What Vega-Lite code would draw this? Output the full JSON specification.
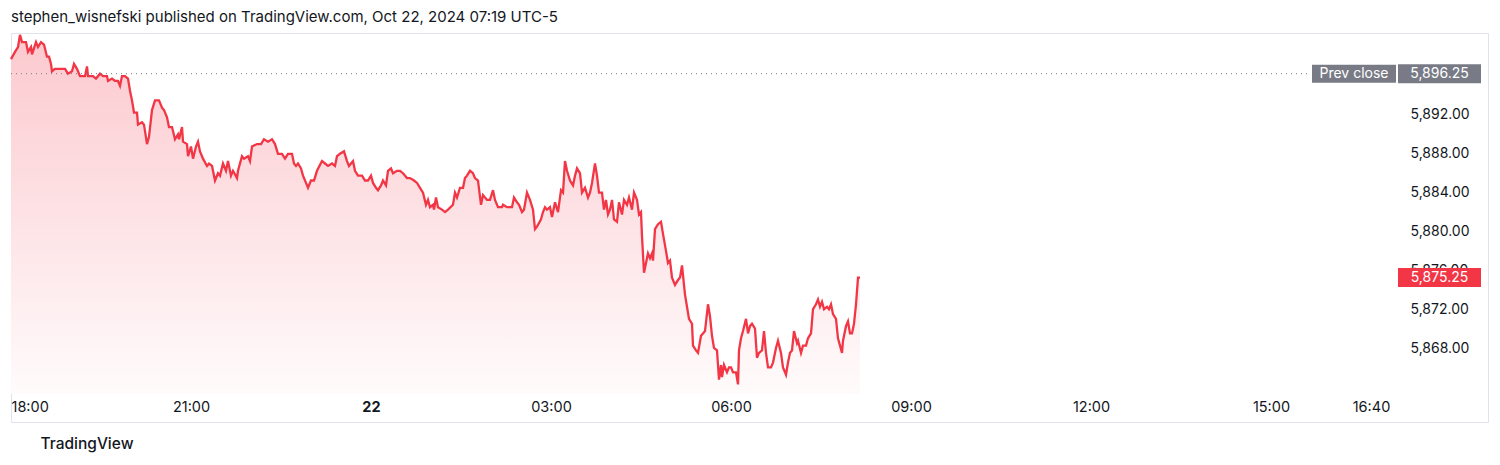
{
  "$schema": "https://vega.github.io/schema/vega-lite/v6.json",
  "autosize": {"type": "none"},
  "padding": {"left": 11, "top": 33, "right": 12, "bottom": 43},
  "width": 1477,
  "height": 389,
  "background": "#ffffff",
  "title": {
    "text": "stephen_wisnefski published on TradingView.com, Oct 22, 2024 07:19 UTC-5",
    "anchor": "start",
    "frame": "group",
    "baseline": "alphabetic",
    "offset": -7,
    "fontSize": 15,
    "fontWeight": "normal",
    "color": "#131722",
    "font": "Inter"
  },
  "datasets": {
    "prices": [
      {"t":"2024-10-21T18:00","p":5897.75},{"t":"2024-10-21T18:04","p":5898.5},{"t":"2024-10-21T18:07","p":5899},{"t":"2024-10-21T18:09","p":5900.25},
      {"t":"2024-10-21T18:11","p":5899.5},{"t":"2024-10-21T18:15","p":5899.5},{"t":"2024-10-21T18:17","p":5898.5},{"t":"2024-10-21T18:20","p":5899},
      {"t":"2024-10-21T18:21","p":5898.25},{"t":"2024-10-21T18:25","p":5899.5},{"t":"2024-10-21T18:27","p":5899},{"t":"2024-10-21T18:30","p":5899.5},
      {"t":"2024-10-21T18:33","p":5899.25},{"t":"2024-10-21T18:36","p":5898},{"t":"2024-10-21T18:38","p":5898},{"t":"2024-10-21T18:40","p":5897.25},
      {"t":"2024-10-21T18:41","p":5896.5},{"t":"2024-10-21T18:44","p":5896.75},{"t":"2024-10-21T18:49","p":5896.75},{"t":"2024-10-21T18:54","p":5896.75},
      {"t":"2024-10-21T18:57","p":5896.25},{"t":"2024-10-21T19:01","p":5896.5},{"t":"2024-10-21T19:03","p":5897.25},{"t":"2024-10-21T19:06","p":5896.75},
      {"t":"2024-10-21T19:09","p":5896},{"t":"2024-10-21T19:14","p":5896},{"t":"2024-10-21T19:16","p":5897},{"t":"2024-10-21T19:17","p":5896},
      {"t":"2024-10-21T19:22","p":5896},{"t":"2024-10-21T19:25","p":5895.75},{"t":"2024-10-21T19:29","p":5896.25},{"t":"2024-10-21T19:32","p":5896},
      {"t":"2024-10-21T19:36","p":5896},{"t":"2024-10-21T19:37","p":5895.5},{"t":"2024-10-21T19:41","p":5895.75},{"t":"2024-10-21T19:44","p":5895.5},
      {"t":"2024-10-21T19:47","p":5895.5},{"t":"2024-10-21T19:49","p":5895},{"t":"2024-10-21T19:51","p":5896},{"t":"2024-10-21T19:54","p":5896},
      {"t":"2024-10-21T19:57","p":5895.75},{"t":"2024-10-21T19:59","p":5894.5},{"t":"2024-10-21T20:01","p":5893.5},{"t":"2024-10-21T20:03","p":5892.25},
      {"t":"2024-10-21T20:06","p":5892.25},{"t":"2024-10-21T20:07","p":5891},{"t":"2024-10-21T20:11","p":5891.25},{"t":"2024-10-21T20:13","p":5891},
      {"t":"2024-10-21T20:16","p":5889},{"t":"2024-10-21T20:18","p":5889.75},{"t":"2024-10-21T20:21","p":5892.5},{"t":"2024-10-21T20:24","p":5893.5},
      {"t":"2024-10-21T20:28","p":5893.5},{"t":"2024-10-21T20:31","p":5892.75},{"t":"2024-10-21T20:33","p":5892.5},{"t":"2024-10-21T20:36","p":5891.75},
      {"t":"2024-10-21T20:38","p":5890.75},{"t":"2024-10-21T20:41","p":5890.75},{"t":"2024-10-21T20:44","p":5889.5},{"t":"2024-10-21T20:47","p":5890},
      {"t":"2024-10-21T20:48","p":5889.5},{"t":"2024-10-21T20:51","p":5890.75},{"t":"2024-10-21T20:52","p":5889.25},{"t":"2024-10-21T20:56","p":5889},
      {"t":"2024-10-21T20:57","p":5887.75},{"t":"2024-10-21T21:00","p":5888.75},{"t":"2024-10-21T21:02","p":5887.5},{"t":"2024-10-21T21:05","p":5888.75},
      {"t":"2024-10-21T21:07","p":5889.25},{"t":"2024-10-21T21:09","p":5888.25},{"t":"2024-10-21T21:12","p":5887.5},{"t":"2024-10-21T21:16","p":5886.75},
      {"t":"2024-10-21T21:18","p":5887},{"t":"2024-10-21T21:21","p":5886.75},{"t":"2024-10-21T21:24","p":5885.25},{"t":"2024-10-21T21:27","p":5886},
      {"t":"2024-10-21T21:29","p":5885.75},{"t":"2024-10-21T21:32","p":5887},{"t":"2024-10-21T21:35","p":5886.25},{"t":"2024-10-21T21:37","p":5887.25},
      {"t":"2024-10-21T21:40","p":5885.75},{"t":"2024-10-21T21:42","p":5886.25},{"t":"2024-10-21T21:46","p":5885.5},{"t":"2024-10-21T21:47","p":5886.25},
      {"t":"2024-10-21T21:51","p":5887.75},{"t":"2024-10-21T21:53","p":5887.5},{"t":"2024-10-21T21:57","p":5887.75},{"t":"2024-10-21T21:59","p":5887.25},
      {"t":"2024-10-21T22:01","p":5888.75},{"t":"2024-10-21T22:06","p":5889},{"t":"2024-10-21T22:10","p":5889},{"t":"2024-10-21T22:13","p":5889.5},
      {"t":"2024-10-21T22:17","p":5889.25},{"t":"2024-10-21T22:21","p":5889.5},{"t":"2024-10-21T22:24","p":5889},{"t":"2024-10-21T22:27","p":5888},
      {"t":"2024-10-21T22:31","p":5888},{"t":"2024-10-21T22:34","p":5887.5},{"t":"2024-10-21T22:37","p":5888},{"t":"2024-10-21T22:41","p":5888},
      {"t":"2024-10-21T22:43","p":5887},{"t":"2024-10-21T22:45","p":5886.75},{"t":"2024-10-21T22:47","p":5887},{"t":"2024-10-21T22:50","p":5886.5},
      {"t":"2024-10-21T22:52","p":5885.75},{"t":"2024-10-21T22:55","p":5885},{"t":"2024-10-21T22:57","p":5884.5},{"t":"2024-10-21T23:00","p":5885.25},
      {"t":"2024-10-21T23:03","p":5885.25},{"t":"2024-10-21T23:06","p":5886.25},{"t":"2024-10-21T23:11","p":5887.25},{"t":"2024-10-21T23:14","p":5887},
      {"t":"2024-10-21T23:17","p":5886.75},{"t":"2024-10-21T23:21","p":5887},{"t":"2024-10-21T23:24","p":5886.75},{"t":"2024-10-21T23:26","p":5887.75},
      {"t":"2024-10-21T23:29","p":5888},{"t":"2024-10-21T23:33","p":5888.25},{"t":"2024-10-21T23:36","p":5887.25},{"t":"2024-10-21T23:38","p":5886.75},
      {"t":"2024-10-21T23:42","p":5887.25},{"t":"2024-10-21T23:44","p":5886.25},{"t":"2024-10-21T23:47","p":5885.75},{"t":"2024-10-21T23:51","p":5885.75},
      {"t":"2024-10-21T23:54","p":5885.25},{"t":"2024-10-21T23:57","p":5885.25},{"t":"2024-10-22T00:00","p":5885.75},{"t":"2024-10-22T00:02","p":5885},
      {"t":"2024-10-22T00:05","p":5884.5},{"t":"2024-10-22T00:07","p":5884.25},{"t":"2024-10-22T00:10","p":5884.75},{"t":"2024-10-22T00:12","p":5885.25},
      {"t":"2024-10-22T00:15","p":5884.75},{"t":"2024-10-22T00:17","p":5886.25},{"t":"2024-10-22T00:20","p":5886.5},{"t":"2024-10-22T00:22","p":5886},
      {"t":"2024-10-22T00:26","p":5886.25},{"t":"2024-10-22T00:29","p":5886.25},{"t":"2024-10-22T00:32","p":5886},{"t":"2024-10-22T00:36","p":5885.5},
      {"t":"2024-10-22T00:39","p":5885.5},{"t":"2024-10-22T00:43","p":5885.25},{"t":"2024-10-22T00:46","p":5885},{"t":"2024-10-22T00:49","p":5884.5},
      {"t":"2024-10-22T00:52","p":5884},{"t":"2024-10-22T00:55","p":5882.75},{"t":"2024-10-22T00:57","p":5883.25},{"t":"2024-10-22T00:59","p":5882.5},
      {"t":"2024-10-22T01:02","p":5882.75},{"t":"2024-10-22T01:03","p":5882.25},{"t":"2024-10-22T01:05","p":5883.5},{"t":"2024-10-22T01:07","p":5882.5},
      {"t":"2024-10-22T01:11","p":5882.25},{"t":"2024-10-22T01:14","p":5882},{"t":"2024-10-22T01:17","p":5882.25},{"t":"2024-10-22T01:22","p":5882.75},
      {"t":"2024-10-22T01:24","p":5884},{"t":"2024-10-22T01:26","p":5883.5},{"t":"2024-10-22T01:29","p":5884.5},{"t":"2024-10-22T01:32","p":5884.5},
      {"t":"2024-10-22T01:34","p":5885.5},{"t":"2024-10-22T01:36","p":5885.75},{"t":"2024-10-22T01:39","p":5886.25},{"t":"2024-10-22T01:42","p":5886},
      {"t":"2024-10-22T01:44","p":5885.5},{"t":"2024-10-22T01:47","p":5885.25},{"t":"2024-10-22T01:50","p":5882.75},{"t":"2024-10-22T01:52","p":5883.75},
      {"t":"2024-10-22T01:56","p":5883.25},{"t":"2024-10-22T01:59","p":5883.25},{"t":"2024-10-22T02:02","p":5884.25},{"t":"2024-10-22T02:04","p":5883.25},
      {"t":"2024-10-22T02:07","p":5882.5},{"t":"2024-10-22T02:11","p":5882.5},{"t":"2024-10-22T02:12","p":5882.75},{"t":"2024-10-22T02:16","p":5882.5},
      {"t":"2024-10-22T02:18","p":5882.5},{"t":"2024-10-22T02:21","p":5882.5},{"t":"2024-10-22T02:23","p":5883.5},{"t":"2024-10-22T02:26","p":5883},
      {"t":"2024-10-22T02:28","p":5882.75},{"t":"2024-10-22T02:31","p":5882},{"t":"2024-10-22T02:33","p":5882.25},{"t":"2024-10-22T02:36","p":5884},
      {"t":"2024-10-22T02:39","p":5883.25},{"t":"2024-10-22T02:42","p":5882.25},{"t":"2024-10-22T02:44","p":5880.25},{"t":"2024-10-22T02:46","p":5880.5},
      {"t":"2024-10-22T02:50","p":5881.25},{"t":"2024-10-22T02:52","p":5882},{"t":"2024-10-22T02:54","p":5882.5},{"t":"2024-10-22T02:56","p":5882.25},
      {"t":"2024-10-22T02:59","p":5882.5},{"t":"2024-10-22T03:01","p":5881.5},{"t":"2024-10-22T03:04","p":5883},{"t":"2024-10-22T03:07","p":5882},
      {"t":"2024-10-22T03:10","p":5884.25},{"t":"2024-10-22T03:12","p":5884},{"t":"2024-10-22T03:14","p":5887.25},{"t":"2024-10-22T03:16","p":5886.25},
      {"t":"2024-10-22T03:19","p":5885.25},{"t":"2024-10-22T03:22","p":5884.75},{"t":"2024-10-22T03:24","p":5885.75},{"t":"2024-10-22T03:26","p":5886.5},
      {"t":"2024-10-22T03:29","p":5886},{"t":"2024-10-22T03:31","p":5884},{"t":"2024-10-22T03:34","p":5884.5},{"t":"2024-10-22T03:37","p":5883.5},
      {"t":"2024-10-22T03:39","p":5884},{"t":"2024-10-22T03:41","p":5885},{"t":"2024-10-22T03:44","p":5887},{"t":"2024-10-22T03:46","p":5885.75},
      {"t":"2024-10-22T03:48","p":5884},{"t":"2024-10-22T03:51","p":5884},{"t":"2024-10-22T03:53","p":5882.25},{"t":"2024-10-22T03:55","p":5883.25},
      {"t":"2024-10-22T03:57","p":5881.75},{"t":"2024-10-22T03:59","p":5882.25},{"t":"2024-10-22T04:01","p":5883.25},{"t":"2024-10-22T04:03","p":5881.25},
      {"t":"2024-10-22T04:06","p":5881},{"t":"2024-10-22T04:08","p":5883},{"t":"2024-10-22T04:11","p":5881.75},{"t":"2024-10-22T04:13","p":5883.25},
      {"t":"2024-10-22T04:16","p":5882.75},{"t":"2024-10-22T04:18","p":5883.5},{"t":"2024-10-22T04:21","p":5882.25},{"t":"2024-10-22T04:23","p":5884},
      {"t":"2024-10-22T04:26","p":5883.25},{"t":"2024-10-22T04:28","p":5881.75},{"t":"2024-10-22T04:30","p":5882},{"t":"2024-10-22T04:31","p":5879.5},
      {"t":"2024-10-22T04:33","p":5875.75},{"t":"2024-10-22T04:35","p":5876.75},{"t":"2024-10-22T04:37","p":5877.75},{"t":"2024-10-22T04:39","p":5877.25},
      {"t":"2024-10-22T04:41","p":5877.75},{"t":"2024-10-22T04:42","p":5877},{"t":"2024-10-22T04:44","p":5880.25},{"t":"2024-10-22T04:47","p":5880.75},
      {"t":"2024-10-22T04:50","p":5881},{"t":"2024-10-22T04:52","p":5879.75},{"t":"2024-10-22T04:55","p":5878},{"t":"2024-10-22T04:57","p":5876.75},
      {"t":"2024-10-22T04:59","p":5877},{"t":"2024-10-22T05:01","p":5875.25},{"t":"2024-10-22T05:04","p":5874.5},{"t":"2024-10-22T05:07","p":5875},
      {"t":"2024-10-22T05:09","p":5875.25},{"t":"2024-10-22T05:11","p":5876.5},{"t":"2024-10-22T05:14","p":5873.5},{"t":"2024-10-22T05:16","p":5872.25},
      {"t":"2024-10-22T05:18","p":5871},{"t":"2024-10-22T05:21","p":5870.5},{"t":"2024-10-22T05:22","p":5868.25},{"t":"2024-10-22T05:25","p":5867.75},
      {"t":"2024-10-22T05:27","p":5867.5},{"t":"2024-10-22T05:30","p":5869.25},{"t":"2024-10-22T05:32","p":5869.5},{"t":"2024-10-22T05:34","p":5869.75},
      {"t":"2024-10-22T05:37","p":5872.5},{"t":"2024-10-22T05:39","p":5871.25},{"t":"2024-10-22T05:41","p":5869.25},{"t":"2024-10-22T05:43","p":5868},
      {"t":"2024-10-22T05:46","p":5867.75},{"t":"2024-10-22T05:48","p":5864.75},{"t":"2024-10-22T05:50","p":5866.25},{"t":"2024-10-22T05:51","p":5865},
      {"t":"2024-10-22T05:53","p":5866.25},{"t":"2024-10-22T05:56","p":5865.5},{"t":"2024-10-22T05:58","p":5866},{"t":"2024-10-22T06:00","p":5866},
      {"t":"2024-10-22T06:02","p":5865.5},{"t":"2024-10-22T06:05","p":5865.5},{"t":"2024-10-22T06:07","p":5864.25},{"t":"2024-10-22T06:08","p":5867.75},
      {"t":"2024-10-22T06:10","p":5869},{"t":"2024-10-22T06:12","p":5869.75},{"t":"2024-10-22T06:15","p":5871},{"t":"2024-10-22T06:17","p":5869.5},
      {"t":"2024-10-22T06:19","p":5870.25},{"t":"2024-10-22T06:21","p":5870.5},{"t":"2024-10-22T06:24","p":5870},{"t":"2024-10-22T06:26","p":5867},
      {"t":"2024-10-22T06:28","p":5867.5},{"t":"2024-10-22T06:31","p":5867.75},{"t":"2024-10-22T06:33","p":5869.75},{"t":"2024-10-22T06:35","p":5867.5},
      {"t":"2024-10-22T06:37","p":5866},{"t":"2024-10-22T06:40","p":5866},{"t":"2024-10-22T06:42","p":5866.5},{"t":"2024-10-22T06:45","p":5868},
      {"t":"2024-10-22T06:47","p":5868.75},{"t":"2024-10-22T06:50","p":5867.5},{"t":"2024-10-22T06:52","p":5866},{"t":"2024-10-22T06:55","p":5865.25},
      {"t":"2024-10-22T06:57","p":5866.5},{"t":"2024-10-22T06:59","p":5867.5},{"t":"2024-10-22T07:01","p":5867.75},{"t":"2024-10-22T07:03","p":5869.75},
      {"t":"2024-10-22T07:06","p":5868.5},{"t":"2024-10-22T07:07","p":5868.75},{"t":"2024-10-22T07:10","p":5867.5},{"t":"2024-10-22T07:12","p":5868.25},
      {"t":"2024-10-22T07:15","p":5868.25},{"t":"2024-10-22T07:17","p":5869},{"t":"2024-10-22T07:20","p":5869.5},{"t":"2024-10-22T07:22","p":5872},
      {"t":"2024-10-22T07:25","p":5872.5},{"t":"2024-10-22T07:27","p":5873},{"t":"2024-10-22T07:29","p":5872.25},{"t":"2024-10-22T07:31","p":5872.75},
      {"t":"2024-10-22T07:33","p":5872},{"t":"2024-10-22T07:36","p":5872.25},{"t":"2024-10-22T07:38","p":5872},{"t":"2024-10-22T07:40","p":5872.5},
      {"t":"2024-10-22T07:42","p":5871.5},{"t":"2024-10-22T07:45","p":5871},{"t":"2024-10-22T07:47","p":5869},{"t":"2024-10-22T07:49","p":5868.25},
      {"t":"2024-10-22T07:51","p":5867.5},{"t":"2024-10-22T07:52","p":5868.75},{"t":"2024-10-22T07:55","p":5870.25},{"t":"2024-10-22T07:57","p":5870.75},
      {"t":"2024-10-22T07:59","p":5869.5},{"t":"2024-10-22T08:01","p":5869.5},{"t":"2024-10-22T08:03","p":5870.5},{"t":"2024-10-22T08:05","p":5872.5},
      {"t":"2024-10-22T08:07","p":5875.25},{"t":"2024-10-22T08:09","p":5875.25}
    ],
    "levels": [
      {"name": "Prev close", "p": 5896.25},
      {"name": "Last", "p": 5875.25}
    ]
  },
  "encoding": {
    "y": {
      "field": "p",
      "type": "quantitative",
      "title": null,
      "scale": {"domain": [5860.38, 5900.44], "zero": false, "nice": false},
      "axis": {
        "orient": "right",
        "offset": -93,
        "values": [5868, 5872, 5876, 5880, 5884, 5888, 5892],
        "format": ",.2f",
        "labelAlign": "left",
        "labelBaseline": "middle",
        "labelPadding": 15,
        "labelFontSize": 14,
        "zindex": 0
      }
    }
  },
  "layer": [
    {
      "data": {"name": "prices"},
      "mark": {
        "type": "area",
        "interpolate": "linear",
        "color": {
          "gradient": "linear",
          "x1": 0, "y1": 0, "x2": 0, "y2": 1,
          "stops": [
            {"offset": 0, "color": "#fcc9ce"},
            {"offset": 0.5, "color": "#fde2e5"},
            {"offset": 1, "color": "#fffbfb"}
          ]
        }
      },
      "encoding": {
        "x": {
          "field": "t",
          "type": "temporal",
          "title": "TradingView",
          "scale": {
            "domain": [
              {"year": 2024, "month": 10, "date": 21, "hours": 18, "minutes": 0},
              {"year": 2024, "month": 10, "date": 22, "hours": 18, "minutes": 37}
            ],
            "nice": false
          },
          "axis": {
            "orient": "bottom",
            "offset": -29,
            "values": [
              {"year": 2024, "month": 10, "date": 21, "hours": 18},
              {"year": 2024, "month": 10, "date": 21, "hours": 21},
              {"year": 2024, "month": 10, "date": 22, "hours": 0},
              {"year": 2024, "month": 10, "date": 22, "hours": 3},
              {"year": 2024, "month": 10, "date": 22, "hours": 6},
              {"year": 2024, "month": 10, "date": 22, "hours": 9},
              {"year": 2024, "month": 10, "date": 22, "hours": 12},
              {"year": 2024, "month": 10, "date": 22, "hours": 15},
              {"year": 2024, "month": 10, "date": 22, "hours": 16, "minutes": 40}
            ],
            "labelExpr": "hours(datum.value) == 0 ? '22' : timeFormat(datum.value, '%H:%M')",
            "labelFontWeight": {"condition": {"test": "hours(datum.value) == 0", "value": "bold"}, "value": "normal"},
            "labelFontSize": 14.5,
            "labelFlush": true,
            "labelBaseline": "top",
            "labelPadding": 7,
            "titleX": 29,
            "titleY": 50,
            "titleAlign": "left",
            "titleBaseline": "middle",
            "titleFontSize": 15.5,
            "titleFontWeight": 500,
            "titleColor": "#131722",
            "zindex": 0
          }
        },
        "y2": {"datum": 5863.3}
      }
    },
    {
      "data": {"name": "prices"},
      "mark": {"type": "line", "color": "#f23645", "strokeWidth": 2.3, "interpolate": "linear"},
      "encoding": {
        "x": {"field": "t", "type": "temporal", "title": "TradingView"}
      }
    },
    {
      "data": {"name": "levels"},
      "transform": [{"filter": "datum.name == 'Prev close'"}],
      "mark": {"type": "rule", "color": "#787b86", "strokeWidth": 1, "strokeDash": [1, 4]},
      "encoding": {
        "x": {"datum": {"year": 2024, "month": 10, "date": 21, "hours": 18}, "type": "temporal"},
        "x2": {"datum": {"year": 2024, "month": 10, "date": 22, "hours": 15, "minutes": 40}}
      }
    },
    {
      "data": {"name": "levels"},
      "transform": [{"filter": "datum.name == 'Prev close'"}],
      "mark": {"type": "point", "filled": true, "opacity": 1, "shape": "M-1,-0.214L1,-0.214L1,0.214L-1,0.214Z", "size": 7056, "color": "#787b86"},
      "encoding": {
        "x": {"datum": {"year": 2024, "month": 10, "date": 22, "hours": 16, "minutes": 23}, "type": "temporal"}
      }
    },
    {
      "data": {"name": "levels"},
      "mark": {"type": "point", "filled": true, "opacity": 1, "shape": "M-1,-0.229L1,-0.229L1,0.229L-1,0.229Z", "size": 6889},
      "encoding": {
        "x": {"datum": {"year": 2024, "month": 10, "date": 22, "hours": 17, "minutes": 48, "seconds": 30}, "type": "temporal"},
        "color": {"field": "name", "type": "nominal", "scale": {"domain": ["Prev close", "Last"], "range": ["#787b86", "#f23645"]}, "legend": null}
      }
    },
    {
      "data": {"name": "levels"},
      "mark": {"type": "text", "color": "#ffffff", "fontSize": 14, "font": "Inter", "align": "center", "baseline": "middle"},
      "encoding": {
        "x": {"datum": {"year": 2024, "month": 10, "date": 22, "hours": 17, "minutes": 48, "seconds": 30}, "type": "temporal"},
        "text": {"field": "p", "type": "quantitative", "format": ",.2f"}
      }
    },
    {
      "data": {"name": "levels"},
      "transform": [{"filter": "datum.name == 'Prev close'"}],
      "mark": {"type": "text", "color": "#ffffff", "fontSize": 14, "font": "Inter", "align": "center", "baseline": "middle"},
      "encoding": {
        "x": {"datum": {"year": 2024, "month": 10, "date": 22, "hours": 16, "minutes": 23}, "type": "temporal"},
        "text": {"field": "name", "type": "nominal"}
      }
    }
  ],
  "config": {
    "font": "Inter",
    "view": {"stroke": "#e0e3eb", "strokeWidth": 1},
    "axis": {
      "grid": false,
      "domain": false,
      "ticks": false,
      "labelColor": "#131722",
      "labelFontSize": 13,
      "labelFont": "Inter",
      "titleFont": "Inter"
    }
  }
}
